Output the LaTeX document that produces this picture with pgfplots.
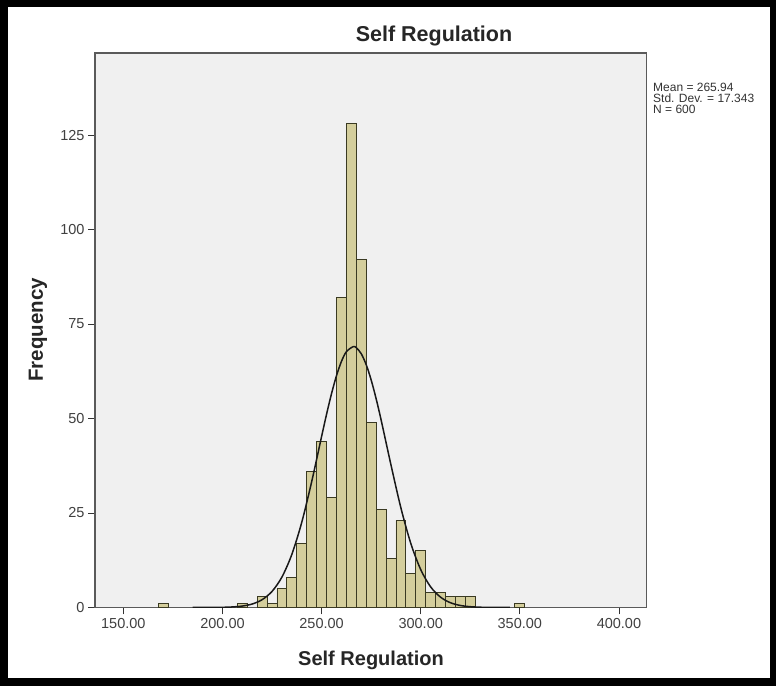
\documentclass[border=0pt]{standalone}
\usepackage{fontspec}
\setmainfont{Liberation Sans}
\usepackage{pgfplots}
\pgfplotsset{compat=1.18}
\definecolor{plotbg}{HTML}{F0F0F0}
\definecolor{barfill}{HTML}{D4CE9C}
\definecolor{baredge}{HTML}{3A3A22}
\definecolor{framecol}{HTML}{5A5A5A}
\begin{document}
\begin{tikzpicture}
\fill[black] (0bp,0bp) rectangle (776bp,686bp);
\fill[white] (8bp,8bp) rectangle (770bp,679bp);
\begin{axis}[
  at={(95bp,78.5bp)}, anchor=south west,
  scale only axis, width=551.7bp, height=554.5bp,
  xmin=135.7, xmax=414, ymin=0, ymax=146.7,
  axis background/.style={fill=plotbg},
  axis line style={draw=framecol, line width=1.3bp},
  tick pos=left, tick align=outside,
  major tick length=7bp,
  tick style={draw=black!80, line width=0.9bp},
  xtick={150,200,250,300,350,400},
  xticklabels={150.00,200.00,250.00,300.00,350.00,400.00},
  ytick={0,25,50,75,100,125},
  ticklabel style={font=\fontsize{14.5bp}{16bp}\selectfont, text=black!75},
  /pgf/number format/assume math mode=true,
]
\addplot[ybar, bar width=5, fill=barfill, draw=baredge, line width=0.8bp] coordinates {
(170,1) (210,1) (220,3) (225,1) (230,5) (235,8) (240,17) (245,36) (250,44)
(255,29) (260,82) (265,128) (270,92) (275,49) (280,26) (285,13) (290,23)
(295,9) (300,15) (305,4) (310,4) (315,3) (320,3) (325,3) (350,1)
};
\addplot[black!90, line width=1.5bp, smooth] coordinates {
(185,0.001) (190,0.005) (195,0.016) (200,0.050) (205,0.144) (210,0.380) (215,0.924)
(220,2.066) (225,4.256) (230,8.060) (235,14.05) (240,22.55) (245,33.29)
(250,45.24) (252.5,51.11) (255,56.56) (257.5,61.30) (260,65.08) (262.5,67.67)
(265.94,69.01) (267.5,68.73) (270,67.14) (272.5,64.25) (275,60.21) (277.5,55.26)
(280,49.68) (285,37.72) (290,26.36) (295,16.95) (300,10.03) (305,5.464)
(310,2.738) (315,1.262) (320,0.536) (325,0.209) (330,0.075) (335,0.025) (340,0.007) (345,0.002)
};
\end{axis}
\node[font=\bfseries\fontsize{21.5bp}{24bp}\selectfont, text=black!85] at (434bp,650bp) {Self Regulation};
\node[font=\bfseries\fontsize{20bp}{23bp}\selectfont, text=black!85] at (371bp,26bp) {Self Regulation};
\node[rotate=90, font=\bfseries\fontsize{20.5bp}{23bp}\selectfont, text=black!85] at (38bp,356bp) {Frequency};
\node[anchor=base west, inner sep=0pt, font=\fontsize{12bp}{13bp}\selectfont, text=black!80] at (653bp,594bp) {Mean = 265.94};
\node[anchor=base west, inner sep=0pt, font=\fontsize{12bp}{13bp}\selectfont, text=black!80] at (653bp,583bp) {Std. Dev. = 17.343};
\node[anchor=base west, inner sep=0pt, font=\fontsize{12bp}{13bp}\selectfont, text=black!80] at (653bp,572bp) {N = 600};
\end{tikzpicture}
\end{document}
